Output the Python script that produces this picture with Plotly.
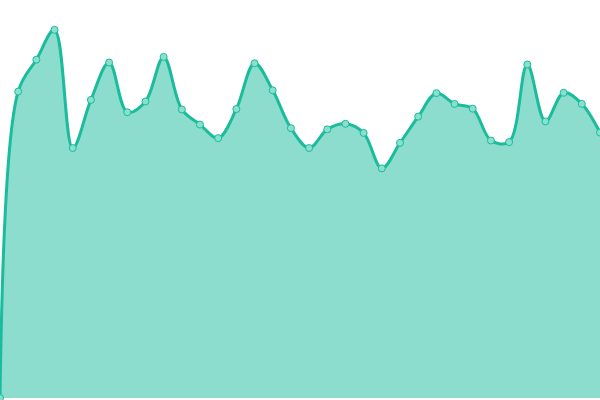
import plotly.graph_objects as go

# sample index and value
steps = list(range(34))
values = [0, 77.0, 85.0, 92.5, 62.8, 74.9, 84.3, 71.8, 74.5, 85.7,
          72.5, 68.7, 65.3, 72.6, 84.1, 77.3, 67.8, 62.8, 67.5, 68.9,
          66.6, 57.7, 64.1, 70.7, 76.6, 73.9, 72.7, 64.7, 64.3, 83.8,
          69.5, 76.7, 73.9, 66.7]

line_col = "#1abc9c"

fig = go.Figure()
fig.add_trace(go.Scatter(
    x=steps, y=values,
    mode="lines+markers",
    line=dict(color=line_col, width=3, shape="spline", smoothing=1),
    fill="tozeroy",
    fillcolor="rgba(26,188,156,0.5)",
    marker=dict(size=7, color="#8ae0cf", line=dict(color=line_col, width=1)),
    hoverinfo="skip",
))

fig.update_layout(
    width=600, height=400,
    margin=dict(l=0, r=0, t=0, b=0),
    paper_bgcolor="white", plot_bgcolor="white",
    showlegend=False,
    xaxis=dict(visible=False, range=[0, 33]),
    yaxis=dict(visible=False, range=[-0.5, 100]),
)

# drop the page margin so the chart sits flush in the window
fig.write_html("out.html", config={"displayModeBar": False},
               post_script="document.body.style.margin='0';")
